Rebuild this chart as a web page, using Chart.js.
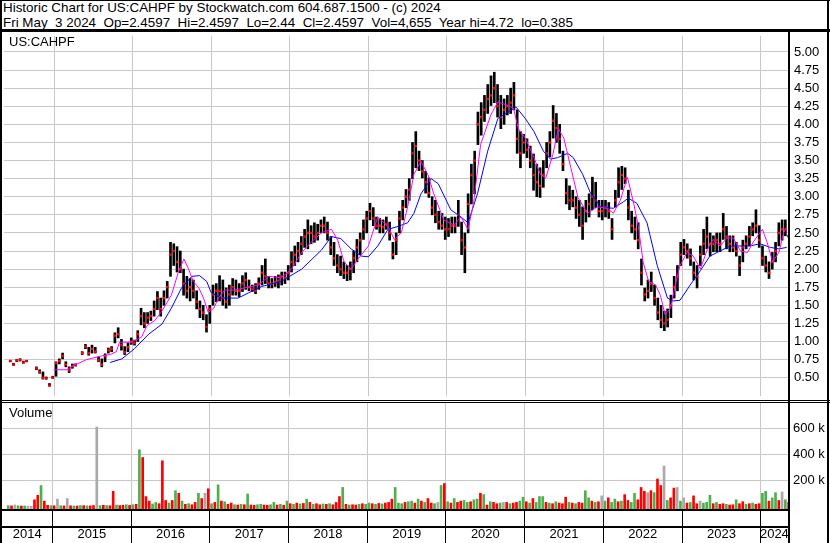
<!DOCTYPE html>
<html>
<head>
<meta charset="utf-8">
<title>US:CAHPF Historic Chart</title>
<script src="https://cdn.jsdelivr.net/npm/chart.js@4.4.1/dist/chart.umd.min.js"></script>
<style>
    body { margin: 0; background: #fff; font-family: "Liberation Sans", Arial, sans-serif; }
    #wrap { position: relative; width: 830px; height: 543px; overflow: hidden; background: #fff; }
    #header { position: absolute; left: 2px; top: 1px; font-size: 13.4px; line-height: 14.6px; white-space: pre; color: #000; padding-left: 1px; }
    .panel-label { position: absolute; left: 9px; font-size: 13px; color: #000; }
    canvas { position: absolute; left: 0; }
    .ln { position: absolute; background: #000; }
</style>
</head>
<body>
<div id="wrap">
    <div id="header"><div>Historic Chart for US:CAHPF by Stockwatch.com 604.687.1500 - (c) 2024</div><div>Fri May  3 2024  Op=2.4597  Hi=2.4597  Lo=2.44  Cl=2.4597  Vol=4,655  Year hi=4.72  lo=0.385</div></div>
    <canvas id="priceChart" width="830" height="368" style="top:32px"></canvas>
    <canvas id="volumeChart" width="830" height="140" style="top:403px"></canvas>
    <div class="panel-label" style="top:34px">US:CAHPF</div>
    <div class="panel-label" style="top:405px">Volume</div>

    <!-- frame lines -->
    <div class="ln" style="left:0;top:0;width:830px;height:1px"></div>
    <div class="ln" style="left:0;top:0;width:2px;height:543px"></div>
    <div class="ln" style="left:827px;top:0;width:2px;height:543px"></div>
    <div class="ln" style="left:0;top:29px;width:830px;height:3px"></div>
    <div class="ln" style="left:788px;top:32px;width:2px;height:511px"></div>
    <div class="ln" style="left:0;top:400px;width:830px;height:1px"></div>
    <div class="ln" style="left:0;top:402px;width:830px;height:1px"></div>
    <div class="ln" style="left:0;top:509px;width:790px;height:2px"></div>
    <div class="ln" style="left:0;top:526px;width:790px;height:2px"></div>
</div>

<script>
// Half-month periods, first one is the first half of June 2014
const lows = [
    0.72, 0.67, 0.72, 0.73, 0.70, 0.72, null, null, 0.61, 0.56, 0.48, 0.48, 0.385, 0.49,                                   // 2014
    0.52, 0.69, 0.76, 0.65, 0.57, 0.63, 0.66, null, 0.82, 0.90, 0.81, 0.84, 0.84, 0.72, 0.65, 0.72, 0.84, 0.86, 0.98, 1.05, 0.88, 0.82, 0.86, 0.96, // 2015
    0.95, 1.00, 1.23, 1.19, 1.25, 1.29, 1.35, 1.44, 1.35, 1.50, 1.60, 1.90, 2.05, 1.96, 1.95, 1.64, 1.60, 1.56, 1.60, 1.45, 1.33, 1.30, 1.13, 1.25, // 2016
    1.50, 1.55, 1.56, 1.50, 1.46, 1.50, 1.64, 1.64, 1.62, 1.69, 1.72, 1.70, 1.69, 1.66, 1.72, 1.78, 1.80, 1.74, 1.74, 1.76, 1.74, 1.78, 1.80, 1.85, // 2017
    1.96, 2.05, 2.10, 2.20, 2.30, 2.28, 2.35, 2.37, 2.40, 2.50, 2.50, 2.40, 2.20, 2.05, 1.95, 1.91, 1.87, 1.84, 1.85, 1.95, 2.10, 2.20, 2.41, 2.50, // 2018
    2.68, 2.60, 2.55, 2.50, 2.50, 2.55, 2.40, 2.14, 2.20, 2.50, 2.68, 2.85, 2.95, 3.25, 3.40, 3.36, 3.26, 3.05, 2.99, 2.75, 2.64, 2.55, 2.55, 2.41, // 2019
    2.45, 2.50, 2.50, 2.59, 2.20, 1.95, 2.50, 2.90, 3.04, 3.72, 3.85, 4.04, 4.15, 4.26, 4.30, 4.10, 3.94, 4.00, 4.13, 4.15, 4.20, 3.60, 3.40, 3.60, // 2020
    3.54, 3.40, 3.09, 3.00, 2.99, 3.13, 3.40, 3.55, 3.81, 3.75, 3.60, 3.36, 2.90, 2.82, 2.86, 2.70, 2.59, 2.41, 2.65, 2.72, 2.82, 2.85, 2.72, 2.68, // 2021
    2.72, 2.70, 2.41, 2.86, 2.99, 3.10, 3.18, 2.68, 2.50, 2.41, 2.28, 1.78, 1.56, 1.60, 1.69, 1.50, 1.30, 1.19, 1.15, 1.20, 1.33, 1.60, 1.70, 2.05, // 2022
    2.20, 2.15, 2.05, 1.85, 1.74, 2.05, 2.20, 2.28, 2.18, 2.24, 2.24, 2.24, 2.41, 2.28, 2.24, 2.24, 2.18, 1.91, 2.10, 2.28, 2.32, 2.46, 2.50, 2.30, // 2023
    2.05, 1.96, 1.87, 2.00, 2.10, 2.32, 2.40, 2.46, 2.44                                                                   // 2024
];
const highs = [
    0.74, 0.70, 0.75, 0.76, 0.73, 0.74, null, null, 0.65, 0.61, 0.58, 0.51, 0.42, 0.52,
    0.72, 0.76, 0.84, 0.72, 0.65, 0.69, 0.69, null, 0.86, 0.96, 0.92, 0.95, 0.92, 0.79, 0.76, 0.83, 0.91, 0.93, 1.12, 1.19, 1.03, 0.93, 0.98, 1.05,
    1.02, 1.15, 1.46, 1.40, 1.40, 1.42, 1.56, 1.69, 1.60, 1.70, 1.83, 2.37, 2.35, 2.31, 2.25, 2.00, 1.90, 1.87, 1.85, 1.70, 1.56, 1.50, 1.37, 1.50,
    1.78, 1.80, 1.91, 1.85, 1.74, 1.78, 1.87, 1.85, 1.80, 1.91, 1.95, 1.85, 1.78, 1.80, 1.88, 2.05, 2.14, 1.90, 1.87, 1.90, 1.92, 1.96, 1.96, 2.05,
    2.24, 2.32, 2.37, 2.45, 2.55, 2.68, 2.60, 2.64, 2.62, 2.68, 2.72, 2.65, 2.45, 2.37, 2.20, 2.18, 2.10, 2.05, 2.10, 2.25, 2.41, 2.50, 2.68, 2.80,
    2.91, 2.85, 2.72, 2.70, 2.68, 2.72, 2.65, 2.37, 2.50, 2.80, 2.95, 3.10, 3.25, 3.75, 3.90, 3.63, 3.50, 3.35, 3.26, 3.00, 2.95, 2.80, 2.77, 2.72,
    2.70, 2.72, 2.72, 2.95, 2.65, 2.50, 3.04, 3.45, 3.63, 4.17, 4.30, 4.40, 4.55, 4.67, 4.72, 4.55, 4.40, 4.35, 4.40, 4.50, 4.58, 4.20, 3.90, 3.86,
    3.80, 3.70, 3.59, 3.45, 3.40, 3.50, 3.75, 3.90, 4.26, 4.15, 4.00, 3.63, 3.25, 3.15, 3.09, 3.00, 2.95, 2.86, 2.95, 3.04, 3.27, 3.20, 2.95, 2.95,
    2.95, 2.92, 2.70, 3.09, 3.40, 3.42, 3.40, 3.09, 2.80, 2.72, 2.64, 2.14, 1.74, 1.85, 1.96, 1.78, 1.60, 1.50, 1.42, 1.45, 1.64, 1.90, 2.05, 2.37,
    2.41, 2.35, 2.28, 2.10, 2.05, 2.32, 2.55, 2.72, 2.50, 2.46, 2.50, 2.50, 2.77, 2.59, 2.46, 2.46, 2.37, 2.18, 2.40, 2.46, 2.59, 2.64, 2.82, 2.60,
    2.32, 2.18, 2.10, 2.23, 2.37, 2.64, 2.68, 2.68, 2.46
];
const closes = [
    0.73, 0.68, 0.74, 0.75, 0.71, 0.73, null, null, 0.63, 0.58, 0.50, 0.49, 0.39, 0.50,
    0.70, 0.73, 0.80, 0.68, 0.60, 0.66, 0.68, null, 0.84, 0.93, 0.84, 0.90, 0.86, 0.74, 0.68, 0.80, 0.88, 0.90, 1.08, 1.10, 0.95, 0.85, 0.92, 1.00,
    0.98, 1.10, 1.35, 1.25, 1.33, 1.35, 1.45, 1.60, 1.45, 1.60, 1.75, 2.20, 2.25, 2.10, 2.00, 1.80, 1.70, 1.75, 1.70, 1.55, 1.45, 1.40, 1.20, 1.45,
    1.65, 1.70, 1.70, 1.60, 1.55, 1.65, 1.75, 1.70, 1.70, 1.80, 1.85, 1.75, 1.72, 1.70, 1.80, 1.95, 1.90, 1.80, 1.80, 1.82, 1.84, 1.90, 1.88, 1.95,
    2.10, 2.20, 2.25, 2.35, 2.45, 2.50, 2.50, 2.45, 2.50, 2.60, 2.60, 2.50, 2.30, 2.15, 2.05, 2.00, 1.95, 1.95, 2.00, 2.15, 2.30, 2.40, 2.55, 2.70,
    2.80, 2.70, 2.60, 2.60, 2.58, 2.62, 2.50, 2.20, 2.40, 2.70, 2.85, 3.00, 3.10, 3.60, 3.70, 3.50, 3.35, 3.20, 3.05, 2.85, 2.75, 2.65, 2.60, 2.55,
    2.55, 2.60, 2.60, 2.75, 2.40, 2.30, 2.90, 3.30, 3.50, 4.00, 4.10, 4.20, 4.35, 4.40, 4.50, 4.25, 4.10, 4.20, 4.25, 4.30, 4.40, 3.80, 3.60, 3.75,
    3.65, 3.50, 3.30, 3.20, 3.15, 3.30, 3.60, 3.75, 4.05, 3.95, 3.80, 3.45, 3.05, 2.95, 2.95, 2.85, 2.75, 2.60, 2.80, 2.90, 3.00, 2.95, 2.80, 2.80,
    2.85, 2.80, 2.55, 2.95, 3.20, 3.30, 3.25, 2.85, 2.60, 2.55, 2.40, 1.95, 1.65, 1.70, 1.80, 1.60, 1.40, 1.30, 1.25, 1.30, 1.50, 1.75, 1.90, 2.20,
    2.30, 2.25, 2.15, 1.95, 1.90, 2.20, 2.35, 2.45, 2.35, 2.35, 2.40, 2.35, 2.55, 2.45, 2.35, 2.30, 2.25, 2.05, 2.30, 2.35, 2.45, 2.55, 2.60, 2.40,
    2.15, 2.05, 1.95, 2.10, 2.25, 2.50, 2.55, 2.55, 2.46
];

// Volume per period, thousands of shares
const volumes = [
    5, 3, 10, 4, 2, 3, 0, 0, 50, 85, 160, 40, 8, 5,
    4, 55, 5, 3, 60, 4, 3, 2, 6, 5, 4, 3, 6, 610, 5, 8, 6, 4, 115, 10, 6, 8, 12, 7,
    12, 15, 435, 375, 75, 40, 18, 30, 20, 350, 45, 25, 45, 120, 100, 40, 15, 20, 12, 30, 100, 60, 100, 135,
    20, 30, 165, 40, 35, 15, 25, 12, 10, 15, 12, 95, 10, 8, 12, 15, 10, 8, 12, 30, 10, 15, 8, 40,
    20, 15, 25, 18, 22, 55, 30, 15, 20, 12, 18, 15, 20, 12, 30, 75, 145, 15, 10, 12, 10, 15, 20, 15,
    25, 20, 15, 22, 18, 25, 30, 55, 145, 25, 20, 30, 35, 40, 25, 55, 40, 30, 60, 25, 20, 30, 160, 175,
    35, 25, 60, 30, 40, 45, 30, 35, 50, 55, 100, 90, 10, 35, 30, 20, 25, 30, 30, 20, 25, 30, 40, 70,
    35, 25, 60, 30, 75, 75, 30, 25, 20, 35, 25, 20, 70, 30, 25, 20, 30, 25, 120, 65, 40, 30, 35, 80,
    40, 65, 30, 55, 35, 40, 90, 45, 30, 100, 50, 145, 115, 105, 120, 105, 210, 160, 310, 45, 65, 140, 145, 40,
    65, 25, 30, 80, 20, 40, 25, 30, 85, 20, 30, 15, 20, 15, 10, 12, 50, 20, 35, 15, 20, 25, 15, 20,
    100, 115, 40, 65, 105, 45, 110, 50, 30
];
// r = down day, g = up day, n = unchanged
const volumeDirs = [
    'grngrgnnrrgrrg',
    'rngrnrgrgrgrrngrgrrgrrgr',
    'grgrrrggrrrgrgrgrgrrgrnr',
    'grgrgrrgrgrgrrggrrggrgrg',
    'rgrgrgrgrrgrgrrrgrgrrgrg',
    'grgrgrrrgggrggrgrgrrgngr',
    'grgrrggrggrgrgrrgnrgrrgg',
    'rgrgggrgrgrrrgrgrrggrgrn',
    'grggrgrrggrrrnrgrrngrrng',
    'nrgrrngggrgrrgrrgrrgrgrr',
    'ggrggrngr'
].join('');

// Moving averages [year, price]
const maShort = [
    [2014.99, 0.61], [2015.16, 0.61], [2015.25, 0.67], [2015.41, 0.75], [2015.60, 0.80], [2015.71, 0.82],
    [2015.79, 0.86], [2015.83, 0.99], [2015.98, 0.99], [2016.11, 1.06], [2016.18, 1.22], [2016.28, 1.29],
    [2016.37, 1.42], [2016.49, 1.64], [2016.58, 1.96], [2016.65, 2.14], [2016.71, 2.00], [2016.77, 1.83],
    [2016.84, 1.74], [2016.90, 1.60], [2016.96, 1.40], [2017.03, 1.46], [2017.09, 1.60], [2017.17, 1.71],
    [2017.29, 1.71], [2017.42, 1.74], [2017.60, 1.78], [2017.73, 1.90], [2017.89, 1.88], [2018.02, 2.00],
    [2018.15, 2.23], [2018.27, 2.37], [2018.40, 2.50], [2018.53, 2.55], [2018.61, 2.40], [2018.69, 2.10],
    [2018.78, 2.00], [2018.87, 2.14], [2019.00, 2.32], [2019.12, 2.72], [2019.25, 2.59], [2019.33, 2.41],
    [2019.42, 2.50], [2019.50, 2.86], [2019.58, 3.31], [2019.67, 3.49], [2019.76, 3.30], [2019.83, 3.05],
    [2019.96, 2.68], [2020.09, 2.61], [2020.18, 2.72], [2020.27, 2.55], [2020.34, 2.91], [2020.43, 3.72],
    [2020.56, 4.13], [2020.65, 4.31], [2020.78, 4.26], [2020.85, 4.22], [2020.91, 3.94], [2021.00, 3.81],
    [2021.11, 3.54], [2021.19, 3.31], [2021.26, 3.26], [2021.35, 3.58], [2021.42, 3.94], [2021.49, 3.81],
    [2021.58, 3.40], [2021.67, 2.99], [2021.79, 2.77], [2021.92, 2.86], [2022.05, 2.84], [2022.12, 2.77],
    [2022.21, 2.95], [2022.30, 3.27], [2022.38, 2.91], [2022.44, 2.59], [2022.50, 2.10], [2022.57, 1.83],
    [2022.66, 1.78], [2022.72, 1.64], [2022.78, 1.37], [2022.85, 1.46], [2022.91, 1.78], [2022.97, 2.05],
    [2023.06, 2.23], [2023.14, 2.18], [2023.23, 2.00], [2023.32, 2.28], [2023.39, 2.41], [2023.48, 2.32],
    [2023.57, 2.43], [2023.65, 2.43], [2023.74, 2.25], [2023.83, 2.23], [2023.90, 2.37], [2024.02, 2.55],
    [2024.08, 2.37], [2024.15, 2.10], [2024.23, 2.23], [2024.29, 2.50], [2024.33, 2.57]
];
const maLong = [
    [2015.71, 0.71], [2015.86, 0.76], [2016.02, 0.90], [2016.20, 1.10], [2016.37, 1.24], [2016.49, 1.46],
    [2016.62, 1.74], [2016.75, 1.90], [2016.85, 1.91], [2016.94, 1.83], [2017.00, 1.67], [2017.13, 1.60],
    [2017.34, 1.60], [2017.47, 1.67], [2017.64, 1.76], [2017.89, 1.83], [2018.15, 2.00], [2018.40, 2.26],
    [2018.53, 2.45], [2018.65, 2.42], [2018.78, 2.28], [2018.91, 2.18], [2019.00, 2.17], [2019.12, 2.32],
    [2019.25, 2.55], [2019.38, 2.59], [2019.50, 2.64], [2019.58, 2.77], [2019.67, 3.04], [2019.80, 3.25],
    [2019.89, 3.18], [2020.05, 2.82], [2020.18, 2.72], [2020.27, 2.64], [2020.39, 3.04], [2020.52, 3.63],
    [2020.65, 4.08], [2020.78, 4.17], [2020.88, 4.24], [2021.00, 4.08], [2021.11, 3.90], [2021.23, 3.63],
    [2021.32, 3.52], [2021.41, 3.54], [2021.54, 3.60], [2021.61, 3.54], [2021.73, 3.31], [2021.83, 3.05],
    [2021.96, 2.86], [2022.12, 2.84], [2022.25, 2.93], [2022.31, 2.98], [2022.42, 2.91], [2022.55, 2.64],
    [2022.68, 2.05], [2022.81, 1.60], [2022.88, 1.56], [2022.97, 1.57], [2023.10, 1.78], [2023.23, 1.98],
    [2023.35, 2.18], [2023.48, 2.25], [2023.61, 2.32], [2023.86, 2.32], [2023.99, 2.35], [2024.12, 2.30],
    [2024.23, 2.28], [2024.33, 2.30]
];

// Axis ticks
const yearStarts = [2015, 2016, 2017, 2018, 2019, 2020, 2021, 2022, 2023, 2024];
const yearLabels = ['2014', '2015', '2016', '2017', '2018', '2019', '2020', '2021', '2022', '2023', '2024'];
const priceTicks = [0.50, 0.75, 1.00, 1.25, 1.50, 1.75, 2.00, 2.25, 2.50, 2.75, 3.00, 3.25, 3.50, 3.75, 4.00, 4.25, 4.50, 4.75, 5.00];
const volumeTicks = [200, 400, 600];

// Scale limits
const X_MIN = 2014.358;
const X_MAX = 2024.346;
const PRICE_MIN = 0.2471;
const PRICE_MAX = 5.2205;
const VOL_MIN = -20.8;
const VOL_MAX = 794.6;

const GRID = '#c8c8c8';
const FONT = '"Liberation Sans", Arial, sans-serif';
const VOL_COLORS = { r: '#ff0000', g: '#4cb04c', n: '#a9a9a9' };

// Middle of a half-month period
function periodYear(i) {
    return 2014 + (10.5 + i) / 24;
}

// Keep the plot area exactly where the frame is: no extra room for edge labels
function noPadding(scale) {
    scale.paddingTop = 0;
    scale.paddingBottom = 0;
    scale.paddingLeft = 0;
    scale.paddingRight = 0;
}

document.addEventListener('DOMContentLoaded', function() {
    Chart.defaults.font.family = FONT;
    Chart.defaults.font.size = 13;
    Chart.defaults.color = '#000';
    buildPriceChart();
    buildVolumeChart();
});

function baseOptions() {
    return {
        responsive: false,
        animation: false,
        events: [],
        layout: { padding: { left: 2, right: 0, top: 0, bottom: 0 } },
        plugins: { legend: { display: false }, tooltip: { enabled: false } }
    };
}

function buildPriceChart() {
    const bars = [];
    const closeMarks = [];
    lows.forEach((lo, i) => {
        if (lo === null) return;
        bars.push({ x: periodYear(i), y: [lo, highs[i]] });
        closeMarks.push({ x: periodYear(i), y: closes[i] });
    });

    const options = baseOptions();
    options.scales = {
        x: {
            type: 'linear',
            min: X_MIN,
            max: X_MAX,
            offset: false,
            grid: { color: GRID, drawTicks: false, offset: false },
            border: { display: false },
            ticks: { display: false },
            afterBuildTicks: s => { s.ticks = yearStarts.map(v => ({ value: v })); },
            afterFit: s => { s.height = 0; noPadding(s); }
        },
        y: {
            position: 'right',
            min: PRICE_MIN,
            max: PRICE_MAX,
            grid: { color: GRID, drawTicks: false },
            border: { display: false },
            ticks: { padding: 6, callback: v => v.toFixed(2) },
            afterBuildTicks: s => { s.ticks = priceTicks.map(v => ({ value: v })); },
            afterFit: s => { s.width = 42; noPadding(s); }
        }
    };

    new Chart(document.getElementById('priceChart'), {
        type: 'bar',
        data: {
            datasets: [
                {
                    type: 'line',
                    data: maShort.map(p => ({ x: p[0], y: p[1] })),
                    borderColor: '#ff00ff',
                    borderWidth: 1,
                    pointRadius: 0,
                    order: 1
                },
                {
                    type: 'line',
                    data: maLong.map(p => ({ x: p[0], y: p[1] })),
                    borderColor: '#0000ff',
                    borderWidth: 1,
                    pointRadius: 0,
                    order: 2
                },
                {
                    type: 'scatter',
                    data: closeMarks,
                    backgroundColor: '#ff0000',
                    borderWidth: 0,
                    pointStyle: 'rect',
                    pointRadius: 1.7,
                    order: 3
                },
                {
                    type: 'bar',
                    data: bars,
                    backgroundColor: '#000',
                    barThickness: 2,
                    order: 4
                }
            ]
        },
        options: options
    });
}

function buildVolumeChart() {
    const data = volumes.map((v, i) => ({ x: periodYear(i), y: v }));
    const colors = volumes.map((v, i) => VOL_COLORS[volumeDirs[i]]);

    // year boundaries plus one label tick in the middle of each visible year
    const xTicks = yearStarts.map(v => ({ value: v, edge: true }));
    yearLabels.forEach((label, k) => {
        const from = Math.max(2014 + k, X_MIN);
        const to = Math.min(2015 + k, X_MAX);
        xTicks.push({ value: (from + to) / 2, edge: false, text: label });
    });

    const options = baseOptions();
    options.scales = {
        x: {
            type: 'linear',
            min: X_MIN,
            max: X_MAX,
            offset: false,
            grid: {
                offset: false,
                color: ctx => (ctx.tick && ctx.tick.edge) ? GRID : 'rgba(0,0,0,0)',
                tickColor: ctx => (ctx.tick && ctx.tick.edge) ? '#000' : 'rgba(0,0,0,0)',
                tickLength: 34,
                tickWidth: 1
            },
            border: { display: false },
            ticks: {
                autoSkip: false,
                maxRotation: 0,
                padding: -16,
                callback: (v, i, ticks) => ticks[i].edge ? '' : ticks[i].text
            },
            afterBuildTicks: s => { s.ticks = xTicks.map(t => Object.assign({}, t)); },
            afterFit: s => { s.height = 34; noPadding(s); }
        },
        y: {
            position: 'right',
            min: VOL_MIN,
            max: VOL_MAX,
            grid: { color: GRID, drawTicks: false },
            border: { display: false },
            ticks: { padding: 5, callback: v => v + ' k' },
            afterBuildTicks: s => { s.ticks = volumeTicks.map(v => ({ value: v })); },
            afterFit: s => { s.width = 42; noPadding(s); }
        }
    };

    new Chart(document.getElementById('volumeChart'), {
        type: 'bar',
        data: {
            datasets: [{
                data: data,
                backgroundColor: colors,
                barThickness: 2,
                base: VOL_MIN
            }]
        },
        options: options
    });
}
</script>
</body>
</html>
